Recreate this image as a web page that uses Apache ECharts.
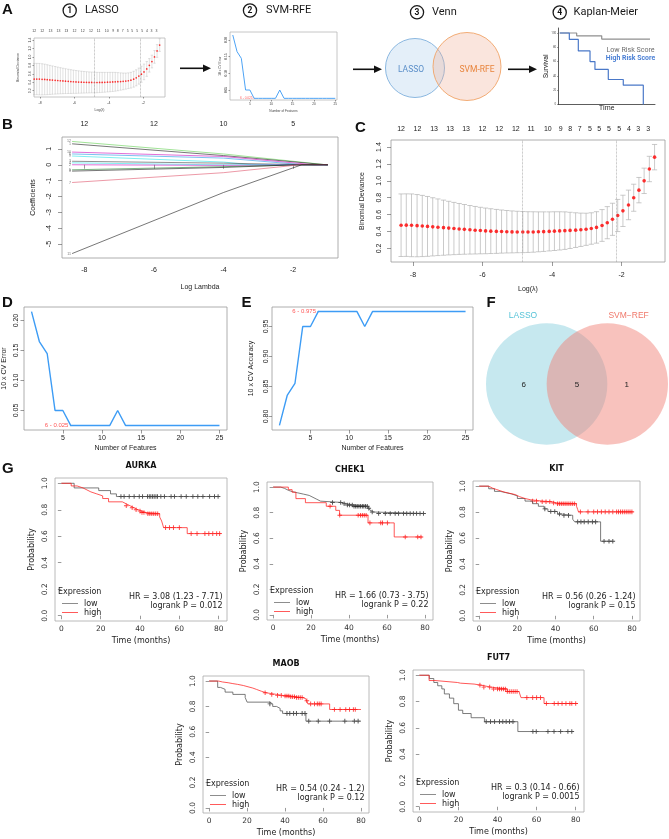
<!DOCTYPE html>
<html><head><meta charset="utf-8">
<script src="https://cdn.jsdelivr.net/npm/echarts@6.0.0/dist/echarts.min.js"></script>
<style>html,body{margin:0;padding:0;background:#fff;}#chart{width:669px;height:839px;}</style>
</head><body><div id="chart"></div>
<script>
// ================= DATA =================
// Panel C (and A thumbnail): LASSO cross-validation
const cLogLambda = [-8.34,-8.19,-8.04,-7.88,-7.73,-7.58,-7.43,-7.28,-7.12,-6.97,-6.82,-6.67,-6.52,-6.36,-6.21,-6.06,-5.91,-5.76,-5.60,-5.45,-5.30,-5.15,-5.00,-4.84,-4.69,-4.54,-4.39,-4.24,-4.08,-3.93,-3.78,-3.63,-3.48,-3.32,-3.17,-3.02,-2.87,-2.72,-2.56,-2.41,-2.26,-2.11,-1.96,-1.80,-1.65,-1.50,-1.35,-1.20,-1.05];
const cMean = [0.475,0.476,0.474,0.470,0.466,0.461,0.456,0.451,0.446,0.441,0.436,0.431,0.426,0.421,0.416,0.412,0.408,0.405,0.402,0.400,0.398,0.396,0.395,0.394,0.394,0.395,0.397,0.399,0.402,0.405,0.408,0.411,0.414,0.417,0.421,0.427,0.436,0.449,0.472,0.505,0.545,0.590,0.645,0.715,0.800,0.890,1.000,1.140,1.280];
const cUpper = [0.845,0.846,0.845,0.838,0.828,0.815,0.800,0.786,0.772,0.758,0.745,0.732,0.720,0.708,0.697,0.687,0.678,0.670,0.662,0.655,0.649,0.644,0.640,0.637,0.635,0.634,0.633,0.633,0.633,0.634,0.634,0.633,0.628,0.622,0.618,0.617,0.622,0.635,0.660,0.695,0.735,0.780,0.830,0.890,0.960,1.040,1.150,1.290,1.430];
const cLower = [0.105,0.106,0.103,0.102,0.104,0.107,0.112,0.116,0.120,0.124,0.127,0.130,0.132,0.134,0.135,0.137,0.138,0.140,0.142,0.145,0.147,0.148,0.150,0.151,0.153,0.156,0.161,0.165,0.171,0.176,0.182,0.189,0.200,0.212,0.224,0.237,0.250,0.263,0.284,0.315,0.355,0.400,0.460,0.540,0.640,0.740,0.850,0.990,1.130];
const cTopX = [-8.34,-7.87,-7.39,-6.93,-6.47,-6.00,-5.52,-5.04,-4.60,-4.12,-3.75,-3.48,-3.20,-2.91,-2.64,-2.36,-2.07,-1.79,-1.52,-1.23];
const cTopLabels = ['12','12','13','13','13','12','12','12','11','10','9','8','7','5','5','5','5','4','3','3'];
const cLambdaLines = [-4.86, -2.16];
const cXTicks = [-8,-6,-4,-2];
const cYTicks = [0.2,0.4,0.6,0.8,1.0,1.2,1.4];

// Panel B: coefficient paths
const bLabels = ['12','1','10','6','9','3','4','2','5','8','7','11'];
const bStartLogLambda = -8.35, bMidLogLambda = -4, bEndLogLambda = -1.0;
const bCoefStart = [1.47,1.32,0.80,0.68,0.55,0.22,0.12,0.00,-0.32,-0.40,-1.12,-5.60];
const bCoefMid   = [0.68,0.58,0.52,0.42,0.17,0.10,0.00,-0.04,-0.12,-0.17,-0.50,-1.75];
const bZeroAt    = [-1.05,-1.05,-1.40,-1.70,-3.20,-1.50,-4.30,-1.80,-1.60,-1.90,-1.80,-1.75];
const bTopX = [-8,-6,-4,-2];
const bTopLabels = ['12','12','10','5'];
const bXTicks = [-8,-6,-4,-2];
const bYTicks = [-5,-4,-3,-2,-1,0,1];

// Panels D / E: SVM-RFE
const features = [1,2,3,4,5,6,7,8,9,10,11,12,13,14,15,16,17,18,19,20,21,22,23,24,25];
const cvError = [0.215,0.165,0.145,0.05,0.05,0.025,0.025,0.025,0.025,0.025,0.025,0.05,0.025,0.025,0.025,0.025,0.025,0.025,0.025,0.025,0.025,0.025,0.025,0.025,0.025];
const cvAccuracy = [0.785,0.835,0.855,0.95,0.95,0.975,0.975,0.975,0.975,0.975,0.975,0.95,0.975,0.975,0.975,0.975,0.975,0.975,0.975,0.975,0.975,0.975,0.975,0.975,0.975];
const bestFeatures = 6;
const dXTicks = [5,10,15,20,25];
const dYTicks = [0.05,0.10,0.15,0.20];
const eYTicks = [0.80,0.85,0.90,0.95];

// Panel F: Venn
const vennSets = ['LASSO','SVM\u2212REF'];
const vennCounts = [6,5,1];

// Panel A step 4: schematic KM
const thumbLowT = [1.5,19,44.9,94.8];
const thumbLowS = [100,96,91.5,91.5];
const thumbHighT = [1.5,11.4,20.7,32.8,37.9,51.7,67.2,87.9];
const thumbHighS = [100,91,75,60,49,35,27,0];
const thumbYTicks = [0,20,40,60,80,100];

// Panel G: Kaplan-Meier curves
const kmXTicks = [0,20,40,60,80];
const kmYTicks = [0,0.2,0.4,0.6,0.8,1.0];
const aurkaLowT = [0,6.5,19,25,28,79.7];
const aurkaLowS = [1,0.965,0.945,0.92,0.9,0.9];
const aurkaLowCens = [30.3,31.9,34.5,37,39.6,41.3,43.8,44.7,45.5,46.4,47.2,48.1,48.9,50.6,52.4,55.8,57.5,60.9,63.5,66.9,69.4,72,75.4,77.9,79.7];
const aurkaHighT = [0,5,8,11,13,15,18,21,24,31,33,35,37,39,41,43,50,51,52,64,81.4];
const aurkaHighS = [1,0.98,0.965,0.95,0.935,0.92,0.905,0.885,0.86,0.845,0.83,0.815,0.80,0.79,0.78,0.77,0.745,0.715,0.665,0.62,0.62];
const aurkaHighCens = [33,36,38,40,41,42,44,45,46,47,48,49,53,55,57,60,66,69,73,75,77,79,80.5];
const aurkaStats = ['HR = 3.08 (1.23 - 7.71)','logrank P = 0.012'];

const chek1LowT = [0,4,6,8,10,13,16,19,21,23,25,36,39,42,50,51,52,53,80.5];
const chek1LowS = [1,0.99,0.975,0.965,0.955,0.945,0.935,0.92,0.905,0.89,0.88,0.87,0.86,0.85,0.835,0.82,0.805,0.793,0.793];
const chek1LowCens = [31.3,35.6,37.4,39.1,40.3,41.7,42.6,43.5,44.3,45.2,46.1,47,47.8,48.7,49.6,50.4,52.2,55.6,59.1,61.7,64.3,66.1,68.7,70.4,72.2,73.9,75.6,77.4,79.2];
const chek1HighT = [0,8,10,12,17,28,33,35,50,63.8,78.6];
const chek1HighS = [1,0.98,0.96,0.91,0.878,0.85,0.818,0.78,0.72,0.61,0.61];
const chek1HighCens = [30,35.1,44.8,46,47,48,49,51,56.7,57.6,60.2,69.6,76.2,77.9];
const chek1Stats = ['HR = 1.66 (0.73 - 3.75)','logrank P = 0.22'];

const kitLowT = [0,5,8,11,14,17,20,24,28,31,34,36,41,43,49,50,63.6,70.2];
const kitLowS = [1,0.98,0.96,0.95,0.94,0.925,0.905,0.885,0.865,0.845,0.825,0.805,0.785,0.775,0.745,0.725,0.575,0.575];
const kitLowCens = [34.4,37.5,39.6,42.1,44.4,46.8,51.6,53.3,55,57.1,59.3,61,65.4,68,70];
const kitHighT = [0,5,7,9,11,13,16,19,21,24,27,33,38,41,51,51.6,52,81];
const kitHighS = [1,0.985,0.975,0.965,0.955,0.945,0.935,0.92,0.905,0.895,0.885,0.88,0.87,0.865,0.845,0.82,0.802,0.802];
const kitHighCens = [28,30,33,35,37,39,41,42,43,44,45,46,47,48,49,50,53,57,60,62,64,66,68,70,72,73,74,75,76,77,78,79,80];
const kitStats = ['HR = 0.56 (0.26 - 1.24)','logrank P = 0.15'];

const maobLowT = [0,4.5,6,8.4,12.5,19,20,32,33.5,35.5,37.4,38.7,51,80];
const maobLowS = [1,0.95,0.935,0.913,0.895,0.87,0.834,0.82,0.80,0.785,0.765,0.745,0.684,0.684];
const maobLowCens = [32,41,42.5,44.5,46,49,50.5,52.5,57.5,63.5,71.5,76.5,78.5];
const maobHighT = [0,5,7,10,12.5,15,18,21,23,25,27.5,30,35.5,38.8,42.3,46,49.3,51,52,63.5,80];
const maobHighS = [1,0.993,0.987,0.98,0.974,0.965,0.953,0.945,0.934,0.92,0.908,0.895,0.887,0.882,0.876,0.87,0.86,0.845,0.82,0.776,0.776];
const maobHighCens = [29.5,33,36,38,40,41,42,43,44,45,46,47,48,49,51.5,53.5,55.5,57,58,59,66,69,72,74,76,77];
const maobStats = ['HR = 0.54 (0.24 - 1.2)','logrank P = 0.12'];

const fut7LowT = [0,5.1,7.4,9.4,11.5,12.8,15.4,17.6,20,22.2,26.5,33.3,50.4,79];
const fut7LowS = [1,0.975,0.945,0.92,0.896,0.858,0.826,0.784,0.734,0.709,0.677,0.647,0.572,0.572];
const fut7LowCens = [34.2,36.4,38.5,41,42.7,44.4,46.1,47.9,58.1,59.8,65.8,68.9,72.3,76,78];
const fut7HighT = [0,5,8,19.5,21,28,31.5,36.5,45,51,52,63.8,81];
const fut7HighS = [1,0.96,0.945,0.94,0.933,0.925,0.91,0.896,0.876,0.865,0.83,0.785,0.785];
const fut7HighCens = [31,33,36,38,40,41,42,43,44,45,46,47,48,49,50,55,58,60,62,65,69,71,73,75,77,78,80];
const fut7Stats = ['HR = 0.3 (0.14 - 0.66)','logrank P = 0.0015'];

// ================= BUILD =================
const FR = 'Liberation Sans, Arial, Helvetica, sans-serif';
const FK = 'DejaVu Sans, sans-serif';
const FA = 'Roboto, sans-serif';
const grids=[], xAxes=[], yAxes=[], series=[], graphics=[], yLabelJobs=[];

function addGrid(box, border){
  grids.push({left:box[0], top:box[1], width:box[2], height:box[3], containLabel:false, outerBoundsMode:'none',
    show:!!border, borderColor:border||'transparent', borderWidth:border?0.8:0, backgroundColor:'transparent'});
  return grids.length-1;
}
function axis(list, gi, min, max, c){
  c = c||{};
  const a = {type:'value', gridIndex:gi, min:min, max:max, show:!c.hidden,
    splitLine:{show:false},
    axisLine:{show:!!c.line, lineStyle:{color:c.lineColor||'#333', width:c.lineWidth||0.8}},
    axisTick:{show:!!c.tickLen, length:c.tickLen||0, customValues:c.ticks, lineStyle:{color:c.tickColor||'#555', width:0.6}},
    axisLabel:{show:c.labels!==false && !!c.ticks, customValues:c.ticks, fontSize:c.size||7, fontFamily:c.font||FR,
      color:c.color||'#222', margin:c.margin==null?4:c.margin, rotate:c.rotate||0, hideOverlap:false},
    name:''};
  if(c.fmt) a.axisLabel.formatter = c.fmt;
  if(c.pos) a.position = c.pos;
  list.push(a); return list.length-1;
}
// rotated y tick labels, positioned afterwards through the axis scale (convertToPixel)
function yLabels(xi, yi, xmin, ticks, fmt, margin, size, font, color){
  yLabelJobs.push({xi:xi, yi:yi, xmin:xmin, ticks:ticks, fmt:fmt, margin:margin, size:size, font:font, color:color});
}
function lookupFmt(xs, labels){ return function(v){ for(let i=0;i<xs.length;i++){ if(Math.abs(xs[i]-v)<1e-6) return labels[i]; } return ''; }; }
function txt(x,y,s,o,rot){ graphics.push({type:'text', x:x, y:y, rotation:rot||0, silent:true, z:50,
  style:Object.assign({text:s, fill:'#111', fontSize:8, fontFamily:FR, align:'center', verticalAlign:'middle'}, o||{})}); }
function axisTitles(box, xName, xGap, yName, yGap, size, font, color){
  const L=box[0], T=box[1], W=box[2], H=box[3];
  if(xName) txt(L+W/2, T+H+xGap+size/2, xName, {fontSize:size, fontFamily:font, fill:color});
  if(yName) txt(L-yGap-size/2, T+H/2, yName, {fontSize:size, fontFamily:font, fill:color}, Math.PI/2);
}
function arrow(x1,x2,y){
  graphics.push({type:'line', silent:true, shape:{x1:x1,y1:y,x2:x2-6,y2:y}, style:{stroke:'#111', lineWidth:1.6}});
  graphics.push({type:'polygon', silent:true, shape:{points:[[x2,y],[x2-8,y-3.8],[x2-8,y+3.8]]}, style:{fill:'#111'}});
}
function stepAt(T,S,t){ let s=S[0]; for(let i=0;i<T.length;i++){ if(T[i]<=t+1e-9) s=S[i]; else break; } return s; }
const PLUS = 'path://M4,0H6V4H10V6H6V10H4V6H0V4H4Z';

function errSeries(xi, yi, cap, lw){
  return {type:'custom', xAxisIndex:xi, yAxisIndex:yi, silent:true, z:2,
    data:cLogLambda.map((x,i)=>[x, cLower[i], cUpper[i]]),
    renderItem:function(p, api){
      const x=api.value(0); const a=api.coord([x, api.value(2)]), b=api.coord([x, api.value(1)]);
      const st={stroke:'#b3b3b3', lineWidth:lw};
      return {type:'group', children:[
        {type:'line', shape:{x1:a[0],y1:a[1],x2:b[0],y2:b[1]}, style:st},
        {type:'line', shape:{x1:a[0]-cap,y1:a[1],x2:a[0]+cap,y2:a[1]}, style:st},
        {type:'line', shape:{x1:b[0]-cap,y1:b[1],x2:b[0]+cap,y2:b[1]}, style:st}]};
    }};
}
function meanSeries(xi, yi, size){
  return {type:'scatter', xAxisIndex:xi, yAxisIndex:yi, silent:true, z:3, symbolSize:size,
    data:cLogLambda.map((x,i)=>[x,cMean[i]]), itemStyle:{color:'#ff0000'},
    markLine:{silent:true, symbol:['none','none'], label:{show:false},
      lineStyle:{type:'dotted', color:'#9a9a9a', width:0.7}, data:cLambdaLines.map(v=>({xAxis:v}))}};
}

// ---------- Panel A ----------
txt(2,10,'A',{align:'left', fontSize:15, fontWeight:'bold'});
[[69.7,10.5,'1','LASSO',85],[250,10.5,'2','SVM-RFE',266],[417,12.3,'3','Venn',432],[559.7,12.5,'4','Kaplan-Meier',573.5]].forEach(t=>{
  graphics.push({type:'circle', silent:true, shape:{cx:t[0],cy:t[1],r:6.6}, style:{fill:'#fff', stroke:'#1a1a1a', lineWidth:1.3}});
  txt(t[0],t[1]+0.3,t[2],{fontSize:8.5, fontWeight:'bold', fontFamily:FA});
  txt(t[4],t[1],t[3],{align:'left', fontSize:11, fontFamily:FA, fill:'#1a1a1a'});
});
arrow(180,211,68.3); arrow(353,382,69.3); arrow(508,537,69.3);

// A1 thumbnail LASSO CV
{
  const box=[34,38,131,59];
  const gi = addGrid(box, '#b8b8b8');
  const xi = axis(xAxes, gi, -8.35, -0.74, {ticks:cXTicks, tickLen:1.5, size:3.5, margin:4, color:'#444'});
  axis(xAxes, gi, -8.35, -0.74, {pos:'top', ticks:cTopX, size:3.5, margin:5, color:'#444', fmt:lookupFmt(cTopX,cTopLabels)});
  const yi = axis(yAxes, gi, 0.051, 1.447, {ticks:cYTicks, tickLen:1.5, labels:false});
  yLabels(xi, yi, -8.35, cYTicks, v=>v.toFixed(1), 2.5, 3.5, FR, '#444');
  axisTitles(box, 'Log(\u03bb)', 11, 'Binomial Deviance', 14, 3.5, FR, '#444');
  series.push(errSeries(xi, yi, 1.2, 0.4));
  series.push(meanSeries(xi, yi, 1.7));
}
// A2 thumbnail SVM-RFE
{
  const box=[230,32,107,68];
  const gi = addGrid(box, '#b8b8b8');
  const xi = axis(xAxes, gi, 0.35, 25.4, {ticks:dXTicks, tickLen:1.5, size:3.2, margin:3, color:'#444'});
  const yi = axis(yAxes, gi, 0.02, 0.224, {ticks:dYTicks, tickLen:1.5, labels:false});
  yLabels(xi, yi, 0.35, dYTicks, v=>v.toFixed(2), 2, 3.2, FR, '#444');
  axisTitles(box, 'Number of Features', 10, '10 x CV Error', 8, 3.2, FR, '#444');
  series.push({type:'line', xAxisIndex:xi, yAxisIndex:yi, silent:true, symbol:'none', data:features.map((f,i)=>[f,cvError[i]]), lineStyle:{color:'#4da3f5', width:1}});
  series.push({type:'scatter', xAxisIndex:xi, yAxisIndex:yi, silent:true, symbolSize:1, itemStyle:{color:'#ff4040'},
    data:[[bestFeatures, cvError[bestFeatures-1]]], label:{show:true, position:'left', distance:1, fontSize:3.2, color:'#ff3030', fontFamily:FR, formatter:bestFeatures+' - '+cvError[bestFeatures-1].toFixed(3)}});
}
// A3 thumbnail Venn
{
  const gi = addGrid([380,30,130,76], null);
  const xi = axis(xAxes, gi, 0, 130, {hidden:true});
  const yi = axis(yAxes, gi, 0, 76, {hidden:true});
  series.push({type:'custom', xAxisIndex:xi, yAxisIndex:yi, silent:true, data:[[0]], renderItem:function(p, api){
    const c1=api.coord([35,38]), c2=api.coord([87,39.5]); const r1=api.size([29.5,0])[0], r2=api.size([34,0])[0];
    return {type:'group', children:[
      {type:'circle', shape:{cx:c1[0],cy:c1[1],r:r1}, style:{fill:'rgba(170,205,235,0.32)', stroke:'#7fb0dc', lineWidth:0.9}},
      {type:'circle', shape:{cx:c2[0],cy:c2[1],r:r2}, style:{fill:'rgba(240,175,150,0.32)', stroke:'#f0a468', lineWidth:0.9}},
      {type:'text', style:{x:c1[0]-4, y:c1[1]+1.5, text:vennSets[0], fill:'#5b8fc9', fontSize:8.5, fontFamily:FA, align:'center', verticalAlign:'middle'}},
      {type:'text', style:{x:c2[0]+10, y:c1[1]+1.5, text:'SVM-RFE', fill:'#e8843c', fontSize:8.5, fontFamily:FA, align:'center', verticalAlign:'middle'}}
    ]};
  }});
}
// A4 thumbnail KM
{
  const box=[558.3,28,96.7,76.5];
  const gi = addGrid(box, null);
  const xi = axis(xAxes, gi, 0, 100, {line:true, lineColor:'#333', lineWidth:0.8, labels:false});
  const yi = axis(yAxes, gi, 0, 107, {line:true, lineColor:'#333', lineWidth:0.8, ticks:thumbYTicks, tickLen:1.2, size:3, margin:2, color:'#555', font:FA});
  axisTitles(box, 'Time', 0.5, 'Survival', 9, 6.8, FA, '#222');
  series.push({type:'line', xAxisIndex:xi, yAxisIndex:yi, silent:true, symbol:'none', step:'end', data:thumbLowT.map((t,i)=>[t,thumbLowS[i]]), lineStyle:{color:'#8f8f8f', width:1.2}});
  series.push({type:'line', xAxisIndex:xi, yAxisIndex:yi, silent:true, symbol:'none', step:'end', data:thumbHighT.map((t,i)=>[t,thumbHighS[i]]), lineStyle:{color:'#4a78c8', width:1.2}});
  txt(630.5,50.7,'Low Risk Score',{fontSize:7.1, fontFamily:FA, fill:'#6e6e6e'});
  txt(630.5,58.3,'High Risk Score',{fontSize:6.9, fontFamily:FA, fill:'#4a7fd4', fontWeight:'bold'});
}

// ---------- Panel B ----------
txt(2,124.5,'B',{align:'left', fontSize:15, fontWeight:'bold'});
{
  const box=[62,137,276,121];
  const gi = addGrid(box, '#9a9a9a');
  const xi = axis(xAxes, gi, -8.64, -0.71, {ticks:bXTicks, tickLen:4, size:7, margin:9});
  axis(xAxes, gi, -8.64, -0.71, {pos:'top', ticks:bTopX, size:7, margin:9, fmt:lookupFmt(bTopX,bTopLabels)});
  const yi = axis(yAxes, gi, -5.88, 1.75, {ticks:bYTicks, tickLen:4, labels:false});
  yLabels(xi, yi, -8.64, bYTicks, v=>String(v), 9, 7, FR, '#222');
  axisTitles(box, 'Log Lambda', 26, 'Coefficients', 25, 7, FR, '#222');
  const bColors = ['#61D04F','#1a1a1a','#CD0BBC','#2297E6','#28E2E5','#444444','#28E2E5','#CD0BBC','#1f7a2a','#1a1a1a','#DF536B','#1a1a1a'];
  bCoefStart.forEach((s,i)=>{
    const pts=[[bStartLogLambda,s],[bMidLogLambda,bCoefMid[i]],[bZeroAt[i],0],[bEndLogLambda,0]].sort((a,b)=>a[0]-b[0]);
    series.push({type:'line', xAxisIndex:xi, yAxisIndex:yi, silent:true, symbol:'none', data:pts, lineStyle:{color:bColors[i], width:0.7, opacity:0.85}});
  });
  series.push({type:'scatter', xAxisIndex:xi, yAxisIndex:yi, silent:true, symbolSize:0,
    data:bCoefStart.map((s,i)=>({value:[bStartLogLambda,s], label:{formatter:bLabels[i]}})),
    label:{show:true, position:'left', distance:1, fontSize:3.6, color:'#555', fontFamily:FR}});
}

// ---------- Panel C ----------
txt(355,127.5,'C',{align:'left', fontSize:15, fontWeight:'bold'});
{
  const box=[391,140,274,122];
  const gi = addGrid(box, '#9a9a9a');
  const xi = axis(xAxes, gi, -8.63, -0.75, {ticks:cXTicks, tickLen:4, size:7, margin:10});
  axis(xAxes, gi, -8.63, -0.75, {pos:'top', ticks:cTopX, size:7, margin:7.5, fmt:lookupFmt(cTopX,cTopLabels)});
  const yi = axis(yAxes, gi, 0.04, 1.483, {ticks:cYTicks, tickLen:4, labels:false});
  yLabels(xi, yi, -8.63, cYTicks, v=>v.toFixed(1), 8, 7, FR, '#222');
  axisTitles(box, 'Log(\u03bb)', 24, 'Binomial Deviance', 25, 7, FR, '#222');
  series.push(errSeries(xi, yi, 2.6, 0.7));
  series.push(meanSeries(xi, yi, 3.6));
}

// ---------- Panels D, E ----------
function rfePanel(letter, lx, box, values, yMin, yMax, yTicks, yName, yNameGap, yMargin){
  txt(lx,303,letter,{align:'left', fontSize:15, fontWeight:'bold'});
  const gi = addGrid(box, '#9a9a9a');
  const xi = axis(xAxes, gi, 0.04, 25.96, {ticks:dXTicks, tickLen:3.5, size:7, margin:5});
  const yi = axis(yAxes, gi, yMin, yMax, {ticks:yTicks, tickLen:3.5, labels:false});
  yLabels(xi, yi, 0.04, yTicks, v=>v.toFixed(2), yMargin, 7, FR, '#222');
  axisTitles(box, 'Number of Features', 15, yName, yNameGap, 7, FR, '#222');
  series.push({type:'line', xAxisIndex:xi, yAxisIndex:yi, silent:true, symbol:'none', data:features.map((f,i)=>[f,values[i]]), lineStyle:{color:'#3d9cf5', width:1.4}});
  series.push({type:'scatter', xAxisIndex:xi, yAxisIndex:yi, silent:true, symbolSize:1.5, itemStyle:{color:'#888'},
    data:[[bestFeatures, values[bestFeatures-1]]], label:{show:true, position:'left', distance:1.5, fontSize:6, color:'#ff2a2a', fontFamily:FR, formatter:bestFeatures+' - '+values[bestFeatures-1].toFixed(3)}});
}
rfePanel('D', 2, [24,307,203,123], cvError, 0.0174, 0.2226, dYTicks, '10 x CV Error', 16, 4);
rfePanel('E', 241.5, [272,307,201,123], cvAccuracy, 0.7774, 0.9826, eYTicks, '10 x CV Accuracy', 17, 2.5);

// ---------- Panel F ----------
txt(486.5,303,'F',{align:'left', fontSize:15, fontWeight:'bold'});
{
  const gi = addGrid([486,323,182,122], null);
  const xi = axis(xAxes, gi, 0, 3, {hidden:true});
  const yi = axis(yAxes, gi, 0, 2, {hidden:true});
  series.push({type:'custom', xAxisIndex:xi, yAxisIndex:yi, silent:true, data:[[0]], renderItem:function(p, api){
    const c1=api.coord([1,1]), c2=api.coord([2,1]); const r=api.size([1,0])[0];
    const tx = {fontSize:8, fontFamily:FR, align:'center', verticalAlign:'middle', fill:'#222'};
    return {type:'group', children:[
      {type:'circle', shape:{cx:c1[0],cy:c1[1],r:r}, style:{fill:'rgba(135,206,222,0.48)'}},
      {type:'circle', shape:{cx:c2[0],cy:c2[1],r:r}, style:{fill:'rgba(240,128,118,0.48)'}},
      {type:'text', style:Object.assign({x:c1[0]-r*0.38, y:c1[1]+0.3, text:String(vennCounts[0])},tx)},
      {type:'text', style:Object.assign({x:(c1[0]+c2[0])/2, y:c1[1]+0.3, text:String(vennCounts[1])},tx)},
      {type:'text', style:Object.assign({x:c2[0]+r*0.32, y:c1[1]+0.3, text:String(vennCounts[2])},tx)},
      {type:'text', style:{x:c1[0]-r*0.39, y:c1[1]-r-7.5, text:vennSets[0], fill:'#56c3d8', fontSize:8.5, fontFamily:FR, align:'center', verticalAlign:'middle'}},
      {type:'text', style:{x:c2[0]+r*0.35, y:c1[1]-r-7.5, text:vennSets[1], fill:'#f0786a', fontSize:8.5, fontFamily:FR, align:'center', verticalAlign:'middle'}}
    ]};
  }});
}

// ---------- Panel G ----------
txt(2,469,'G',{align:'left', fontSize:15, fontWeight:'bold'});
const kmPanels = [
  {title:'AURKA', box:[55,478,172,143], low:[aurkaLowT,aurkaLowS,aurkaLowCens], high:[aurkaHighT,aurkaHighS,aurkaHighCens], stats:aurkaStats},
  {title:'CHEK1', box:[267,482,166,138], low:[chek1LowT,chek1LowS,chek1LowCens], high:[chek1HighT,chek1HighS,chek1HighCens], stats:chek1Stats},
  {title:'KIT', box:[473,481,167,140], low:[kitLowT,kitLowS,kitLowCens], high:[kitHighT,kitHighS,kitHighCens], stats:kitStats},
  {title:'MAOB', box:[203,676,166,137], low:[maobLowT,maobLowS,maobLowCens], high:[maobHighT,maobHighS,maobHighCens], stats:maobStats},
  {title:'FUT7', box:[413,670,171,142], low:[fut7LowT,fut7LowS,fut7LowCens], high:[fut7HighT,fut7HighS,fut7HighCens], stats:fut7Stats}
];
kmPanels.forEach(p=>{
  const L=p.box[0], T=p.box[1], W=p.box[2], H=p.box[3], B=T+H, R=L+W;
  const gi = addGrid(p.box, '#a8a8a8');
  const xi = axis(xAxes, gi, -3.24, 84.24, {ticks:kmXTicks, tickLen:3.5, size:7.5, font:FK, color:'#333', margin:4});
  const yi = axis(yAxes, gi, -0.04, 1.04, {ticks:kmYTicks, tickLen:3.5, labels:false});
  yLabels(xi, yi, -3.24, kmYTicks, v=>v.toFixed(1), 6, 7.5, FK, '#333');
  axisTitles(p.box, 'Time (months)', 15.5, 'Probability', 19, 8, FK, '#222');
  [[p.low,'#505050','#202020'],[p.high,'#ff2020','#ff1010']].forEach(g=>{
    const Tt=g[0][0], Ss=g[0][1], Cc=g[0][2];
    series.push({type:'line', xAxisIndex:xi, yAxisIndex:yi, silent:true, symbol:'none', step:'end',
      data:Tt.map((t,i)=>[t,Ss[i]]), lineStyle:{color:g[1], width:0.75}});
    series.push({type:'scatter', xAxisIndex:xi, yAxisIndex:yi, silent:true, symbol:PLUS, symbolSize:4.6,
      data:Cc.map(t=>[t, stepAt(Tt,Ss,t)]), itemStyle:{color:g[2]}});
  });
  txt(L+W/2, T-12.5, p.title, {fontSize:8, fontWeight:'bold', fontFamily:FK, fill:'#111'});
  txt(L+3, B-29, 'Expression', {align:'left', fontSize:8, fontFamily:FK, fill:'#222'});
  graphics.push({type:'line', silent:true, shape:{x1:L+7,y1:B-17.5,x2:L+23,y2:B-17.5}, style:{stroke:'#707070', lineWidth:0.8}});
  graphics.push({type:'line', silent:true, shape:{x1:L+7,y1:B-8.5,x2:L+23,y2:B-8.5}, style:{stroke:'#ff3030', lineWidth:0.8}});
  txt(L+29, B-17.5, 'low', {align:'left', fontSize:8, fontFamily:FK, fill:'#222'});
  txt(L+29, B-8.5, 'high', {align:'left', fontSize:8, fontFamily:FK, fill:'#222'});
  txt(R-4.5, B-24, p.stats[0], {align:'right', fontSize:8, fontFamily:FK, fill:'#222'});
  txt(R-4.5, B-14.8, p.stats[1], {align:'right', fontSize:8, fontFamily:FK, fill:'#222'});
});

const chart = echarts.init(document.getElementById('chart'), null, {renderer:'canvas', width:669, height:839});
chart.setOption({animation:false, backgroundColor:'#ffffff', grid:grids, xAxis:xAxes, yAxis:yAxes, series:series, graphic:graphics});
// place rotated y tick labels using the axes' own scales
const labelEls = [];
yLabelJobs.forEach(j=>{
  j.ticks.forEach(v=>{
    const px = chart.convertToPixel({xAxisIndex:j.xi, yAxisIndex:j.yi}, [j.xmin, v]);
    labelEls.push({type:'text', x:px[0]-j.margin-j.size*0.55, y:px[1], rotation:Math.PI/2, silent:true, z:50,
      style:{text:j.fmt(v), fontSize:j.size, fontFamily:j.font, fill:j.color, align:'center', verticalAlign:'middle'}});
  });
});
chart.setOption({graphic:graphics.concat(labelEls)});
</script></body></html>
